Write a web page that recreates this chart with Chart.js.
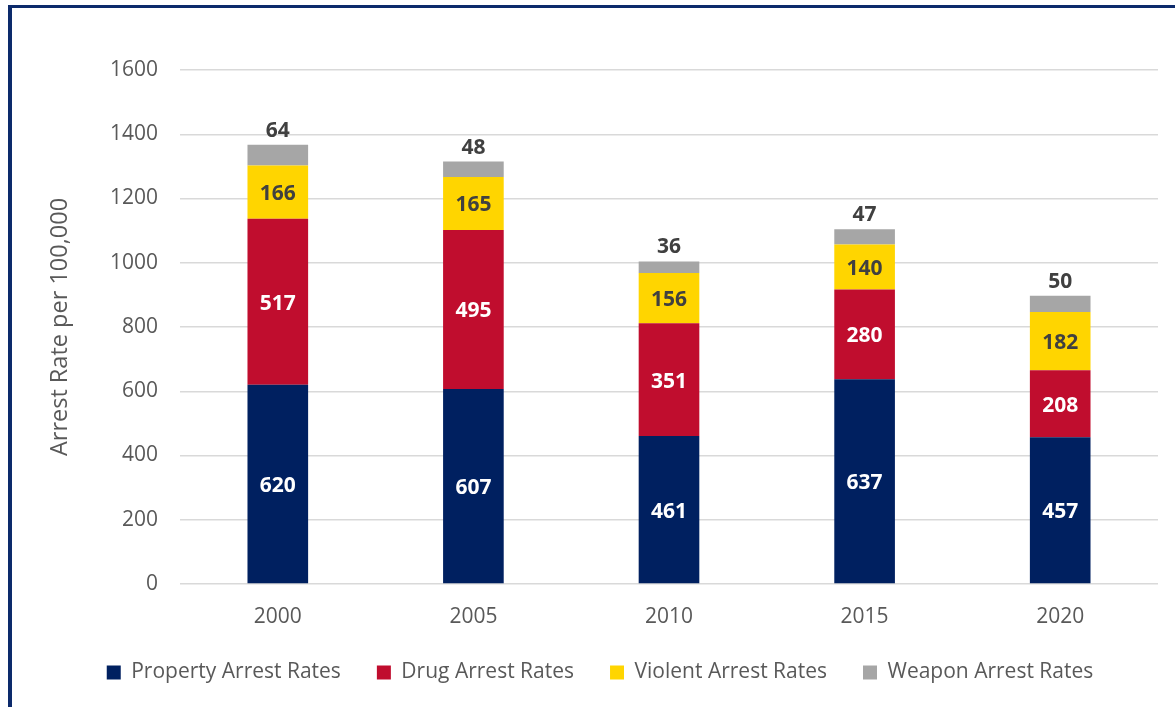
<!DOCTYPE html>
<html>
<head>
<meta charset="utf-8">
<script src="https://cdn.jsdelivr.net/npm/chart.js@4"></script>
<style>
  html, body { margin: 0; padding: 0; background: #ffffff; }
  #wrap { position: relative; width: 1175px; height: 707px; overflow: hidden; }
  #frame { position: absolute; left: 8px; top: 5px; width: 1300px; height: 900px;
           border-top: 3px solid #0c2a6b; border-left: 4px solid #0c2a6b; box-sizing: border-box; }
  #c { position: absolute; left: 0; top: 0; }
</style>
</head>
<body>
<div id="wrap">
  <div id="frame"></div>
  <canvas id="c" width="1175" height="707"></canvas>
</div>
<script>
const years = ['2000', '2005', '2010', '2015', '2020'];
const propertyRates = [620, 607, 461, 637, 457];
const drugRates = [517, 495, 351, 280, 208];
const violentRates = [166, 165, 156, 140, 182];
const weaponRates = [64, 48, 36, 47, 50];
const yTicks = [0, 200, 400, 600, 800, 1000, 1200, 1400, 1600];

const FONT = '"Open Sans", sans-serif';

const labelPlugin = {
  id: 'barLabels',
  afterDatasetsDraw(chart) {
    const ctx = chart.ctx;
    ctx.save();
    ctx.font = 'bold 21px ' + FONT;
    ctx.textAlign = 'center';
    ctx.textBaseline = 'middle';
    chart.data.datasets.forEach((ds, di) => {
      const meta = chart.getDatasetMeta(di);
      meta.data.forEach((bar, i) => {
        const v = ds.data[i];
        if (ds.labelPos === 'top') {
          ctx.fillStyle = '#404040';
          ctx.fillText(String(v), bar.x, bar.y - 14);
        } else {
          ctx.fillStyle = ds.labelColor;
          ctx.fillText(String(v), bar.x, (bar.y + bar.base) / 2 + 2);
        }
      });
    });
    // category labels under the x axis, positioned by the library's x scale
    const xs = chart.scales.x;
    ctx.font = '21px ' + FONT;
    ctx.fillStyle = '#595959';
    chart.data.labels.forEach((lab, i) => {
      ctx.fillText(lab, xs.getPixelForTick(i), xs.top + 33);
    });
    ctx.restore();
  }
};

new Chart(document.getElementById('c'), {
  type: 'bar',
  data: {
    labels: years,
    datasets: [
      { label: 'Property Arrest Rates', data: propertyRates, backgroundColor: '#002060', labelColor: '#ffffff' },
      { label: 'Drug Arrest Rates', data: drugRates, backgroundColor: '#C00D2E', labelColor: '#ffffff' },
      { label: 'Violent Arrest Rates', data: violentRates, backgroundColor: '#FFD500', labelColor: '#404040' },
      { label: 'Weapon Arrest Rates', data: weaponRates, backgroundColor: '#A6A6A6', labelPos: 'top' }
    ]
  },
  options: {
    responsive: false,
    animation: false,
    devicePixelRatio: 1,
    datasets: { bar: { barPercentage: 0.31, categoryPercentage: 1.0 } },
    layout: { padding: { left: 42, right: 17, top: 70, bottom: 14 } },
    plugins: {
      tooltip: { enabled: false },
      legend: {
        position: 'bottom',
        labels: {
          boxWidth: 14, boxHeight: 14, padding: 36,
          color: '#595959',
          font: { family: FONT, size: 21, lineHeight: 1.0 }
        }
      }
    },
    scales: {
      x: {
        stacked: true,
        grid: { display: false },
        border: { display: false },
        ticks: { display: false },
        afterFit(s) { s.height = 42; }
      },
      y: {
        stacked: true,
        min: 0, max: 1600,
        afterBuildTicks(s) { s.ticks = yTicks.map(v => ({ value: v })); },
        grid: { color: '#d9d9d9', lineWidth: 1.5, drawTicks: false },
        border: { display: false },
        ticks: { color: '#595959', font: { family: FONT, size: 21 }, padding: 22,
                 callback: v => String(v) },
        title: { display: true, text: 'Arrest Rate per 100,000', color: '#595959',
                 font: { family: FONT, size: 23.5 } },
        afterFit(s) { s.width = 138; }
      }
    }
  },
  plugins: [labelPlugin]
});
</script>
</body>
</html>
